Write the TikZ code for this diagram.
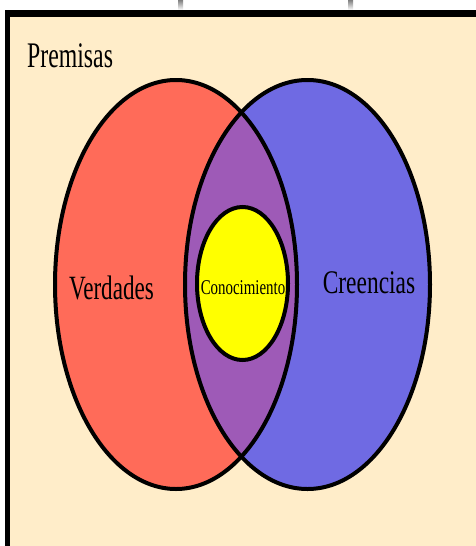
\documentclass[tikz,border=0pt]{standalone}
\usepackage{fontspec}
\setmainfont{Liberation Serif}
\usepackage{graphicx}
\definecolor{beige}{HTML}{FFEDC9}
\definecolor{verd}{HTML}{FF6B59}
\definecolor{cree}{HTML}{6F6AE3}
\definecolor{inter}{HTML}{9E5AB7}
\definecolor{cono}{HTML}{FFFF00}
\definecolor{shade}{HTML}{E6EAEE}
\newcommand\condtext[3]{\scalebox{#2}[1]{\fontsize{#1}{#1}\selectfont #3}}
\tikzset{
  setline/.style={draw=black, line width=4pt},
  lbl/.style={inner sep=0pt, anchor=base, text=black}
}
\begin{document}
\begin{tikzpicture}[x=1pt,y=-1pt]
\useasboundingbox (0,0) rectangle (475,546);
% screenshot background
\fill[white] (0,0) rectangle (475,546);
\fill[shade] (178,0) rectangle (183,10);
\fill[shade] (348,0) rectangle (353,10);
% frame
\fill[beige] (7,13) rectangle (480,550);
\draw[black, line width=7pt] (5,13.5) -- (480,13.5);
\draw[black, line width=5pt] (7.5,10) -- (7.5,550);
% sets
\fill[verd] (176,284.5) ellipse [x radius=121, y radius=204.5];
\fill[cree] (307.5,284.5) ellipse [x radius=122.5, y radius=204.5];
\begin{scope}
  \clip (176,284.5) ellipse [x radius=121, y radius=204.5];
  \fill[inter] (307.5,284.5) ellipse [x radius=122.5, y radius=204.5];
\end{scope}
\draw[setline] (176,284.5) ellipse [x radius=121, y radius=204.5];
\draw[setline] (307.5,284.5) ellipse [x radius=122.5, y radius=204.5];
\filldraw[fill=cono, setline] (242.5,283.5) ellipse [x radius=45.5, y radius=76.5];
% labels
\node[lbl, anchor=base west] (premisas) at (27,67) {\condtext{36}{0.66}{Premisas}};
\node[lbl] (verdades) at (111.5,299) {\condtext{34}{0.68}{Verdades}};
\node[lbl] (creencias) at (369,293) {\condtext{33}{0.71}{Creencias}};
\node[lbl] (conocimiento) at (243,294) {\condtext{21}{0.71}{Conocimiento}};
\end{tikzpicture}
\end{document}
